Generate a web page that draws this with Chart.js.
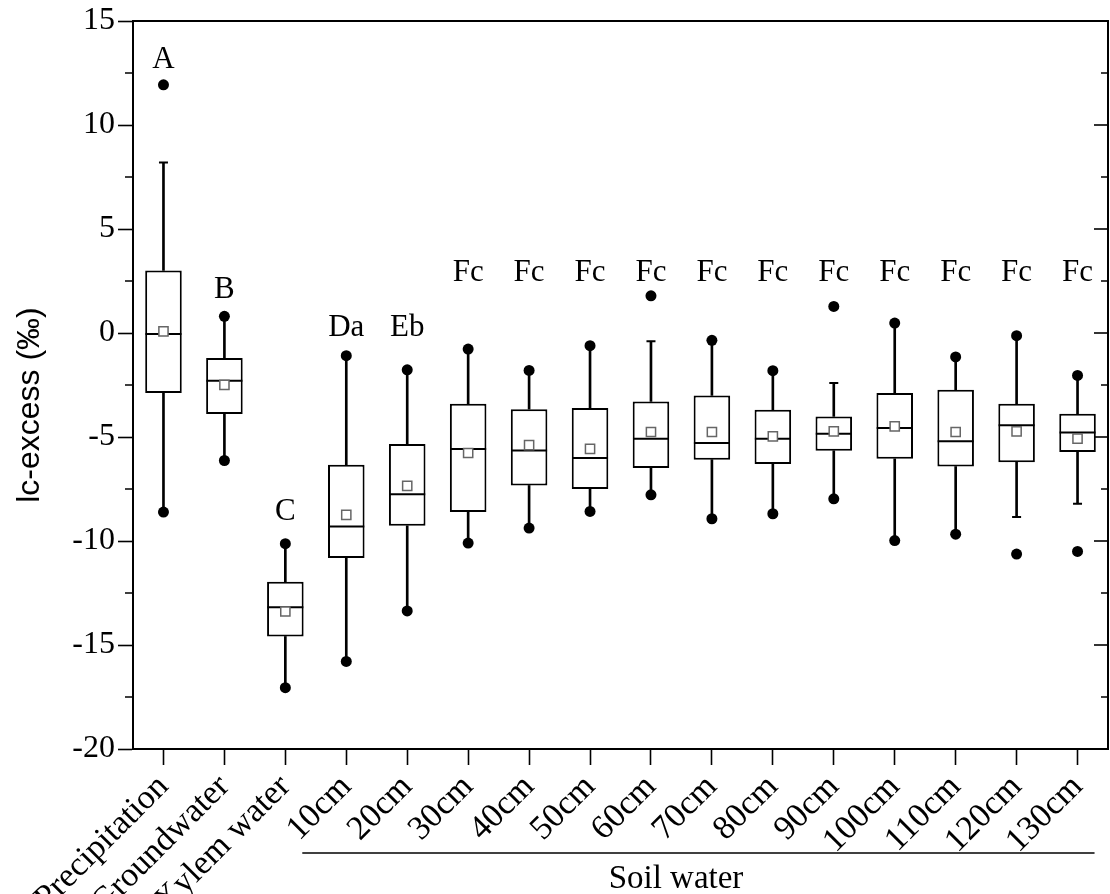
<!DOCTYPE html>
<html><head><meta charset="utf-8">
<script src="https://cdn.jsdelivr.net/npm/chart.js@4"></script>
<style>html,body{margin:0;padding:0;background:#fff;}canvas{display:block;}</style>
</head><body>
<canvas id="c" width="1110" height="894"></canvas>
<script>
const categories = ['Precipitation','Groundwater','Xylem water','10cm','20cm','30cm','40cm','50cm','60cm','70cm','80cm','90cm','100cm','110cm','120cm','130cm'];
const maxPoints   = [11.93, 0.80, -10.13, -1.09, -1.77, -0.77, -1.80, -0.61, 1.79, -0.35, -1.81, 1.28, 0.48, -1.15, -0.13, -2.04];
const whiskerHigh = [8.20, 0.80, -10.13, -1.09, -1.77, -0.77, -1.80, -0.61, -0.40, -0.35, -1.81, -2.40, 0.48, -1.15, -0.13, -2.04];
const boxHigh     = [3.01, -1.20, -11.96, -6.33, -5.34, -3.40, -3.66, -3.61, -3.29, -3.00, -3.69, -4.01, -2.89, -2.73, -3.40, -3.88];
const medians     = [-0.05, -2.29, -13.18, -9.30, -7.75, -5.58, -5.65, -6.01, -5.08, -5.29, -5.08, -4.84, -4.57, -5.21, -4.44, -4.78];
const means       = [0.08, -2.49, -13.39, -8.74, -7.35, -5.77, -5.39, -5.57, -4.76, -4.76, -4.97, -4.73, -4.49, -4.76, -4.73, -5.08];
const boxLow      = [-2.89, -3.90, -14.59, -10.82, -9.27, -8.61, -7.33, -7.50, -6.49, -6.09, -6.30, -5.66, -6.05, -6.42, -6.21, -5.72];
const whiskerLow  = [-8.61, -6.13, -17.05, -15.79, -13.36, -10.10, -9.38, -8.58, -7.78, -8.93, -8.69, -7.97, -9.98, -9.67, -8.85, -8.21];
const minPoints   = [-8.61, -6.13, -17.05, -15.79, -13.36, -10.10, -9.38, -8.58, -7.78, -8.93, -8.69, -7.97, -9.98, -9.67, -10.63, -10.50];
const groupLetters = ['A','B','C','Da','Eb','Fc','Fc','Fc','Fc','Fc','Fc','Fc','Fc','Fc','Fc','Fc'];
const letterY      = [13.15, 2.08, -8.58, 0.25, 0.25, 2.9, 2.9, 2.9, 2.9, 2.9, 2.9, 2.9, 2.9, 2.9, 2.9, 2.9];
const yMin = -20, yMax = 15, yStep = 5, yMinorStep = 2.5;
const yTitle = 'lc-excess (‰)';
const groupTitle = 'Soil water';
const groupFirst = 3, groupLast = 15;

Chart.defaults.font.family = '"Liberation Serif", "Times New Roman", serif';
Chart.defaults.color = '#000';

const boxes = categories.map((c,i)=>[boxLow[i], boxHigh[i]]);
const upperWhiskers = categories.map((c,i)=>[boxHigh[i], whiskerHigh[i]]);
const lowerWhiskers = categories.map((c,i)=>[whiskerLow[i], boxLow[i]]);
const capsHigh = categories.map((c,i)=> whiskerHigh[i] !== maxPoints[i] ? whiskerHigh[i] : null);
const capsLow = categories.map((c,i)=> whiskerLow[i] !== minPoints[i] ? whiskerLow[i] : null);

const decorPlugin = {
  id: 'decor',
  afterDraw(chart){
    const {ctx, chartArea:a, scales:{x, y}} = chart;
    ctx.save();
    ctx.strokeStyle = '#000';
    ctx.lineWidth = 2;
    ctx.strokeRect(a.left, a.top, a.right - a.left, a.bottom - a.top);
    ctx.lineWidth = 1.6;
    for (let v = yMin; v <= yMax + 1e-9; v += yMinorStep) {
      const py = Math.round(y.getPixelForValue(v));
      const major = Math.abs(v % yStep) < 1e-9;
      ctx.beginPath();
      if (!major) { ctx.moveTo(a.left - 8, py); ctx.lineTo(a.left, py); }
      ctx.moveTo(a.right - (major ? 14 : 7), py); ctx.lineTo(a.right, py);
      ctx.stroke();
    }
    ctx.fillStyle = '#000';
    ctx.textAlign = 'center';
    ctx.textBaseline = 'middle';
    ctx.font = '31px "Liberation Serif"';
    groupLetters.forEach((t,i)=>{
      ctx.fillText(t, x.getPixelForValue(i), y.getPixelForValue(letterY[i]));
    });
    // group bracket
    const x0 = x.getPixelForValue(groupFirst) - 44;
    const x1 = x.getPixelForValue(groupLast) + 17;
    ctx.lineWidth = 1.5;
    ctx.beginPath(); ctx.moveTo(x0, 853); ctx.lineTo(x1, 853); ctx.stroke();
    ctx.font = '33px "Liberation Serif"';
    ctx.fillText(groupTitle, 676, 879);
    // y title
    ctx.save();
    ctx.translate(30, 405);
    ctx.rotate(-Math.PI/2);
    ctx.font = '32px "Liberation Sans"';
    ctx.fillText(yTitle, 0, 0);
    ctx.restore();
    ctx.restore();
  }
};

new Chart(document.getElementById('c'), {
  type: 'bar',
  data: {
    labels: categories,
    datasets: [
      {type:'bar', data: boxes, backgroundColor:'#fff', borderColor:'#000', borderWidth:2, borderSkipped:false, grouped:false, barPercentage:0.6, categoryPercentage:1, order:6},
      {type:'bar', data: upperWhiskers, backgroundColor:'#000', borderWidth:0, grouped:false, barThickness:2, order:7},
      {type:'bar', data: lowerWhiskers, backgroundColor:'#000', borderWidth:0, grouped:false, barThickness:2, order:7},
      {type:'line', data: medians, showLine:false, pointStyle:'line', pointRadius:18, pointBorderColor:'#000', pointBorderWidth:2, order:4},
      {type:'line', data: capsHigh, showLine:false, pointStyle:'line', pointRadius:4.5, pointBorderColor:'#000', pointBorderWidth:2, order:3},
      {type:'line', data: capsLow, showLine:false, pointStyle:'line', pointRadius:4.5, pointBorderColor:'#000', pointBorderWidth:2, order:3},
      {type:'line', data: means, showLine:false, pointStyle:'rect', pointRadius:6.5, pointBackgroundColor:'#fff', pointBorderColor:'#666', pointBorderWidth:1.5, order:2},
      {type:'line', data: maxPoints, showLine:false, pointStyle:'circle', pointRadius:5.5, pointBackgroundColor:'#000', pointBorderColor:'#000', pointBorderWidth:0, order:1},
      {type:'line', data: minPoints, showLine:false, pointStyle:'circle', pointRadius:5.5, pointBackgroundColor:'#000', pointBorderColor:'#000', pointBorderWidth:0, order:1}
    ]
  },
  options: {
    responsive: false,
    animation: false,
    events: [],
    layout: {autoPadding: false, padding: {top: 21, right: 2, left: 0, bottom: 0}},
    plugins: {legend: {display:false}, tooltip: {enabled:false}},
    scales: {
      x: {
        offset: true,
        grid: {offset:false, drawOnChartArea:false, drawTicks:true, tickLength:16, tickWidth:1.6, tickColor:'#000'},
        border: {display:true, color:'#000', width:2},
        ticks: {maxRotation:45, minRotation:45, padding:2, font:{size:34}, color:'#000', autoSkip:false},
        afterFit: s => { s.height = 145; s.paddingLeft = 0; s.paddingRight = 0; }
      },
      y: {
        min: yMin, max: yMax,
        grid: {drawOnChartArea:false, drawTicks:true, tickLength:15, tickWidth:1.6, tickColor:'#000'},
        border: {display:true, color:'#000', width:2},
        ticks: {stepSize: yStep, padding:3, font:{size:32}, color:'#000'},
        afterFit: s => { s.width = 133; s.paddingTop = 0; s.paddingBottom = 0; }
      }
    }
  },
  plugins: [decorPlugin]
});
</script>
</body></html>
